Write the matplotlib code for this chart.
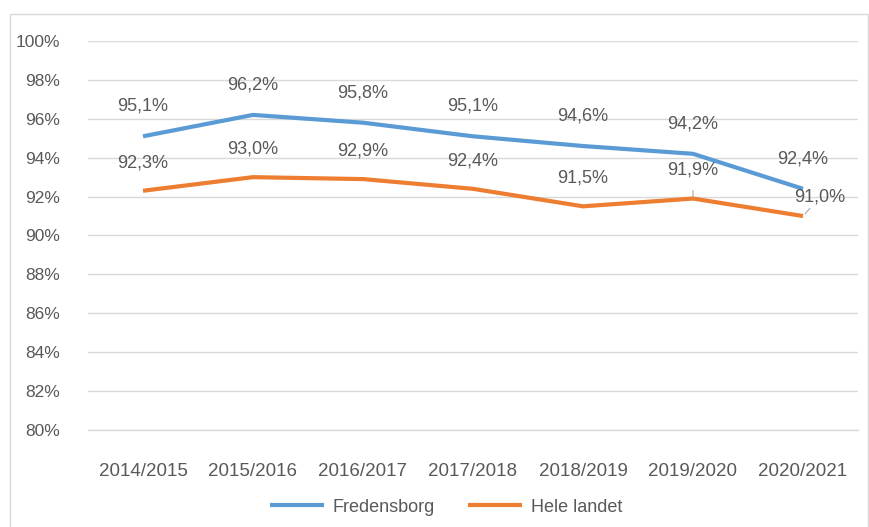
import numpy as np
import matplotlib.pyplot as plt
from matplotlib.patches import Rectangle

plt.rcParams['font.family'] = ['Liberation Sans', 'DejaVu Sans']

years = ['2014/2015', '2015/2016', '2016/2017', '2017/2018', '2018/2019', '2019/2020', '2020/2021']
fredensborg = [95.1, 96.2, 95.8, 95.1, 94.6, 94.2, 92.4]
hele_landet = [92.3, 93.0, 92.9, 92.4, 91.5, 91.9, 91.0]

grey = '#595959'
blue = '#5B9BD5'
orange = '#ED7D31'

fig = plt.figure(figsize=(8.7, 5.27), dpi=100)
ax = fig.add_axes([88/870, 1-430/527, (858-88)/870, (430-41)/527])

x = np.arange(len(years))
ax.plot(x, fredensborg, color=blue, lw=3, solid_joinstyle='round', solid_capstyle='butt', label='Fredensborg')
ax.plot(x, hele_landet, color=orange, lw=3, solid_joinstyle='round', solid_capstyle='butt', label='Hele landet')

def fmt(v):
    return ('%.1f%%' % v).replace('.', ',')

for i, v in enumerate(fredensborg):
    ax.annotate(fmt(v), (i, v), xytext=(0, 30), textcoords='offset pixels',
                ha='center', va='center', fontsize=13, color=grey)

for i, v in enumerate(hele_landet):
    if i == 5:
        ax.annotate(fmt(v), (i, v), xytext=(0, 29), textcoords='offset pixels',
                    ha='center', va='center', fontsize=13, color=grey,
                    arrowprops=dict(arrowstyle='-', color='#a6a6a6', lw=0.8, shrinkA=7, shrinkB=1))
    elif i == 6:
        ax.annotate(fmt(v), (i, v), xytext=(17, 19), textcoords='offset pixels',
                    ha='center', va='center', fontsize=13, color=grey,
                    arrowprops=dict(arrowstyle='-', color='#a6a6a6', lw=0.8, shrinkA=8, shrinkB=2))
    else:
        ax.annotate(fmt(v), (i, v), xytext=(0, 28), textcoords='offset pixels',
                    ha='center', va='center', fontsize=13, color=grey)

ax.set_xlim(-0.5, len(years) - 0.5)
ax.set_ylim(80, 100)
ax.set_yticks(np.arange(80, 101, 2))
ax.set_yticklabels(['%d%%' % t for t in range(80, 101, 2)])
ax.set_xticks(x)
ax.set_xticklabels(years)
ax.tick_params(axis='y', length=0, pad=20, labelsize=12.5, labelcolor=grey)
ax.tick_params(axis='x', length=0, pad=24, labelsize=13.5, labelcolor=grey)
ax.grid(axis='y', color='#d9d9d9', lw=1)
ax.axhline(80, color='#d9d9d9', lw=1, clip_on=False, zorder=0.5)
ax.set_axisbelow(True)
for s in ax.spines.values():
    s.set_visible(False)

fig.legend(loc='center', bbox_to_anchor=(446/870, 1-507/527), ncol=2, frameon=False,
           fontsize=13, handlelength=3, handletextpad=0.5, columnspacing=1.8,
           labelcolor=grey)

fig.patches.append(Rectangle((10/870, -0.05), (868-10)/870, 1.05-14/527,
                             transform=fig.transFigure, fill=False, ec='#d9d9d9', lw=1))

plt.savefig('out.png', dpi=100)
